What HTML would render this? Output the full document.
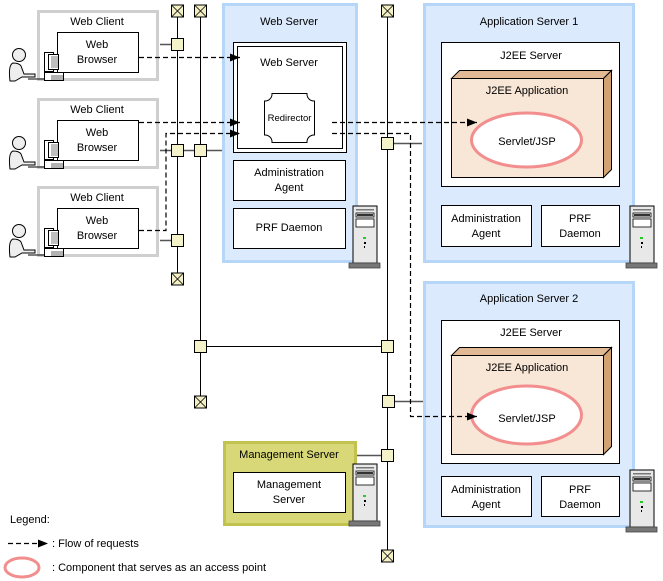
<!DOCTYPE html>
<html><head><meta charset="utf-8"><style>
html,body{margin:0;padding:0;background:#fff;}
svg{display:block;}
text{font-family:"Liberation Sans",sans-serif;font-size:11px;fill:#000;}
</style></head><body>
<svg width="663" height="581" viewBox="0 0 663 581" xmlns="http://www.w3.org/2000/svg">
<defs>
<g id="tower">
 <rect x="4" y="0" width="24" height="57" fill="#e8e8e8" stroke="#000" stroke-width="1"/>
 <rect x="7" y="3" width="18" height="1.5" fill="#777"/>
 <rect x="7" y="7" width="18" height="4" fill="#fff" stroke="#000" stroke-width="0.8"/>
 <rect x="8" y="8" width="16" height="2" fill="#333"/>
 <rect x="7" y="13" width="18" height="8" fill="#fff" stroke="#000" stroke-width="0.8"/>
 <rect x="14" y="31" width="3" height="2" fill="#2c2"/>
 <rect x="15" y="36" width="2" height="2" fill="#000"/>
 <rect x="15" y="40" width="1" height="2" fill="#000"/>
 <rect x="0" y="57" width="31" height="5" fill="#777" stroke="#444" stroke-width="0.8"/>
</g>
<g id="person">
 <circle cx="17" cy="10" r="6.5" fill="#eee" stroke="#000"/>
 <path d="M11 18 Q6 20 8 36 L13 36 L20 32 L33 32 L33 29 L22 29 L19 21 Q17 18 11 18 Z" fill="#eee" stroke="#000"/>
 <path d="M26 34h16" stroke="#000"/>
 <rect x="42.5" y="7.5" width="9" height="19" fill="#fff" stroke="#000"/>
 <rect x="46.5" y="9.5" width="10" height="15" fill="#fff" stroke="#000"/>
 <path d="M49 12h7M49 14h7M49 16h7M49 18h7M49 20h7M49 22h7" stroke="#000" stroke-width="0.6"/>
 <rect x="42.5" y="27.5" width="19" height="8" fill="#fff" stroke="#000"/>
 <path d="M50 30v6M52 30v6M54 30v6M56 30v6M58 30v6M60 30v6" stroke="#000" stroke-width="0.6"/>
</g>
<marker id="ah" markerWidth="10" markerHeight="8" refX="10" refY="4" orient="auto" markerUnits="userSpaceOnUse">
 <path d="M0 0L10 4L0 8Z" fill="#000"/>
</marker>
<g id="xbox"><rect x="-6" y="-6" width="12" height="12" fill="#f2f0c4" stroke="#000"/><path d="M-6 -6L6 6M6 -6L-6 6" stroke="#000" stroke-width="0.8"/></g>
<g id="sq"><rect x="-6" y="-6" width="12" height="12" fill="#f4f2c8" stroke="#000"/></g>
</defs>

<!-- Web clients -->
<g>
 <rect x="38.5" y="11.5" width="119" height="68" fill="#fff" stroke="#cfcfcf" stroke-width="3"/>
 <text x="97" y="25" text-anchor="middle">Web Client</text>
 <rect x="57.5" y="32.5" width="81" height="40" fill="#fff" stroke="#000"/>
 <text x="97" y="48" text-anchor="middle">Web</text><text x="97" y="63" text-anchor="middle">Browser</text>
 <use href="#person" x="2" y="45"/>

 <rect x="38.5" y="99.5" width="119" height="68" fill="#fff" stroke="#cfcfcf" stroke-width="3"/>
 <text x="97" y="113" text-anchor="middle">Web Client</text>
 <rect x="57.5" y="120.5" width="81" height="40" fill="#fff" stroke="#000"/>
 <text x="97" y="136" text-anchor="middle">Web</text><text x="97" y="151" text-anchor="middle">Browser</text>
 <use href="#person" x="2" y="133"/>

 <rect x="38.5" y="187.5" width="119" height="68" fill="#fff" stroke="#cfcfcf" stroke-width="3"/>
 <text x="97" y="201" text-anchor="middle">Web Client</text>
 <rect x="57.5" y="208.5" width="81" height="40" fill="#fff" stroke="#000"/>
 <text x="97" y="224" text-anchor="middle">Web</text><text x="97" y="239" text-anchor="middle">Browser</text>
 <use href="#person" x="2" y="221"/>
</g>

<!-- Web Server -->
<rect x="223.5" y="4.5" width="133" height="257" fill="#dbeafc" stroke="#b5d6f7" stroke-width="3"/>
<text x="289" y="25" text-anchor="middle">Web Server</text>
<rect x="233.5" y="42.5" width="113" height="110" fill="#fff" stroke="#000"/>
<rect x="237.5" y="46.5" width="105" height="102" fill="#fff" stroke="#000"/>
<text x="289" y="66" text-anchor="middle">Web Server</text>
<path d="M272 93.5 H307 A7 7 0 0 0 314.5 101 V135 A7 7 0 0 0 307 142.5 H272 A7 7 0 0 0 264.5 135 V101 A7 7 0 0 0 272 93.5Z" fill="#fff" stroke="#000"/>
<text x="289.5" y="121" text-anchor="middle" style="font-size:9.5px">Redirector</text>
<rect x="233.5" y="160.5" width="112" height="40" fill="#fff" stroke="#000"/>
<text x="289" y="176" text-anchor="middle">Administration</text><text x="289" y="191" text-anchor="middle">Agent</text>
<rect x="233.5" y="208.5" width="112" height="40" fill="#fff" stroke="#000"/>
<text x="289" y="231" text-anchor="middle">PRF Daemon</text>
<use href="#tower" x="349" y="206"/>

<!-- App Server 1 -->
<rect x="424.5" y="4.5" width="209" height="257" fill="#dbeafc" stroke="#b5d6f7" stroke-width="3"/>
<text x="529" y="25" text-anchor="middle">Application Server 1</text>
<rect x="441.5" y="42.5" width="178" height="144" fill="#fff" stroke="#000"/>
<text x="531" y="59" text-anchor="middle">J2EE Server</text>
<path d="M451.5 78.5 L459.5 70.5 L611.5 70.5 L603.5 78.5Z" fill="#e2b995" stroke="#000"/>
<path d="M603.5 78.5 L611.5 70.5 L611.5 169.5 L603.5 177.5Z" fill="#d3a272" stroke="#000"/>
<rect x="451.5" y="78.5" width="152" height="99" fill="#f8e6d6" stroke="#000"/>
<text x="527" y="94" text-anchor="middle">J2EE Application</text>
<ellipse cx="526.5" cy="140" rx="55" ry="27" fill="#fff" stroke="#f28e8e" stroke-width="3"/>
<text x="527" y="145" text-anchor="middle">Servlet/JSP</text>
<rect x="441.5" y="205.5" width="90" height="41" fill="#fff" stroke="#000"/>
<text x="486" y="222" text-anchor="middle">Administration</text><text x="486" y="237" text-anchor="middle">Agent</text>
<rect x="541.5" y="205.5" width="78" height="41" fill="#fff" stroke="#000"/>
<text x="580" y="222" text-anchor="middle">PRF</text><text x="580" y="237" text-anchor="middle">Daemon</text>
<use href="#tower" x="626" y="206"/>

<!-- App Server 2 -->
<rect x="424.5" y="282.5" width="209" height="244" fill="#dbeafc" stroke="#b5d6f7" stroke-width="3"/>
<text x="529" y="302" text-anchor="middle">Application Server 2</text>
<rect x="441.5" y="320.5" width="178" height="143" fill="#fff" stroke="#000"/>
<text x="531" y="336" text-anchor="middle">J2EE Server</text>
<path d="M451.5 355.5 L459.5 347.5 L611.5 347.5 L603.5 355.5Z" fill="#e2b995" stroke="#000"/>
<path d="M603.5 355.5 L611.5 347.5 L611.5 446.5 L603.5 454.5Z" fill="#d3a272" stroke="#000"/>
<rect x="451.5" y="355.5" width="152" height="99" fill="#f8e6d6" stroke="#000"/>
<text x="527" y="371" text-anchor="middle">J2EE Application</text>
<ellipse cx="526.5" cy="415" rx="55" ry="29" fill="#fff" stroke="#f28e8e" stroke-width="3"/>
<text x="527" y="422" text-anchor="middle">Servlet/JSP</text>
<rect x="441.5" y="476.5" width="90" height="40" fill="#fff" stroke="#000"/>
<text x="486" y="493" text-anchor="middle">Administration</text><text x="486" y="508" text-anchor="middle">Agent</text>
<rect x="541.5" y="476.5" width="78" height="40" fill="#fff" stroke="#000"/>
<text x="580" y="493" text-anchor="middle">PRF</text><text x="580" y="508" text-anchor="middle">Daemon</text>
<use href="#tower" x="626" y="470"/>

<!-- Management Server -->
<rect x="224.5" y="442.5" width="131" height="82" fill="#d8d878" stroke="#c2c24e" stroke-width="3"/>
<text x="289" y="458" text-anchor="middle">Management Server</text>
<rect x="233.5" y="472.5" width="112" height="40" fill="#fff" stroke="#000"/>
<text x="289" y="488" text-anchor="middle">Management</text><text x="289" y="503" text-anchor="middle">Server</text>
<use href="#tower" x="349" y="464"/>

<!-- network lines -->
<g stroke="#000" stroke-width="1" fill="none">
 <path d="M177.5 10V280M200.5 10V402M387.5 10V557"/>
 <path d="M206 346.5H381"/>
</g>
<g stroke="#555" stroke-width="1.5" fill="none">
 <path d="M160 44.5H171M160 150.5H171M183 150.5H194M206 150.5H222M160 240.5H171"/>
 <path d="M393 143.5H422M393 401.5H423M357 455.5H381"/>
</g>
<use href="#xbox" x="177.5" y="11"/>
<use href="#xbox" x="200.5" y="11"/>
<use href="#xbox" x="387.5" y="11"/>
<use href="#xbox" x="177.5" y="279"/>
<use href="#xbox" x="200.5" y="402"/>
<use href="#xbox" x="387.5" y="556"/>
<use href="#sq" x="177.5" y="44.5"/>
<use href="#sq" x="177.5" y="150.5"/>
<use href="#sq" x="200.5" y="150.5"/>
<use href="#sq" x="177.5" y="240.5"/>
<use href="#sq" x="200.5" y="346.5"/>
<use href="#sq" x="387.5" y="346.5"/>
<use href="#sq" x="387.5" y="143.5"/>
<use href="#sq" x="388.5" y="401.5"/>
<use href="#sq" x="387.5" y="455.5"/>

<!-- request flows -->
<g stroke="#000" stroke-width="1.2" stroke-dasharray="5,3" fill="none">
 <path d="M139 57.5H240" marker-end="url(#ah)"/>
 <path d="M139 122.5H240" marker-end="url(#ah)"/>
 <path d="M139 230.5H166V133.5H240" marker-end="url(#ah)"/>
 <path d="M332 122.5H477" marker-end="url(#ah)"/>
 <path d="M332 133.5H410.5V416.5H477" marker-end="url(#ah)"/>
</g>

<!-- Legend -->
<text x="10" y="523">Legend:</text>
<path d="M8 543.5H48" stroke="#000" stroke-width="1.2" stroke-dasharray="5,3" marker-end="url(#ah)" fill="none"/>
<text x="52" y="547">: Flow of requests</text>
<ellipse cx="22" cy="567.5" rx="17" ry="9.5" fill="#fff" stroke="#f28e8e" stroke-width="3"/>
<text x="52" y="571">: Component that serves as an access point</text>
</svg>
</body></html>
